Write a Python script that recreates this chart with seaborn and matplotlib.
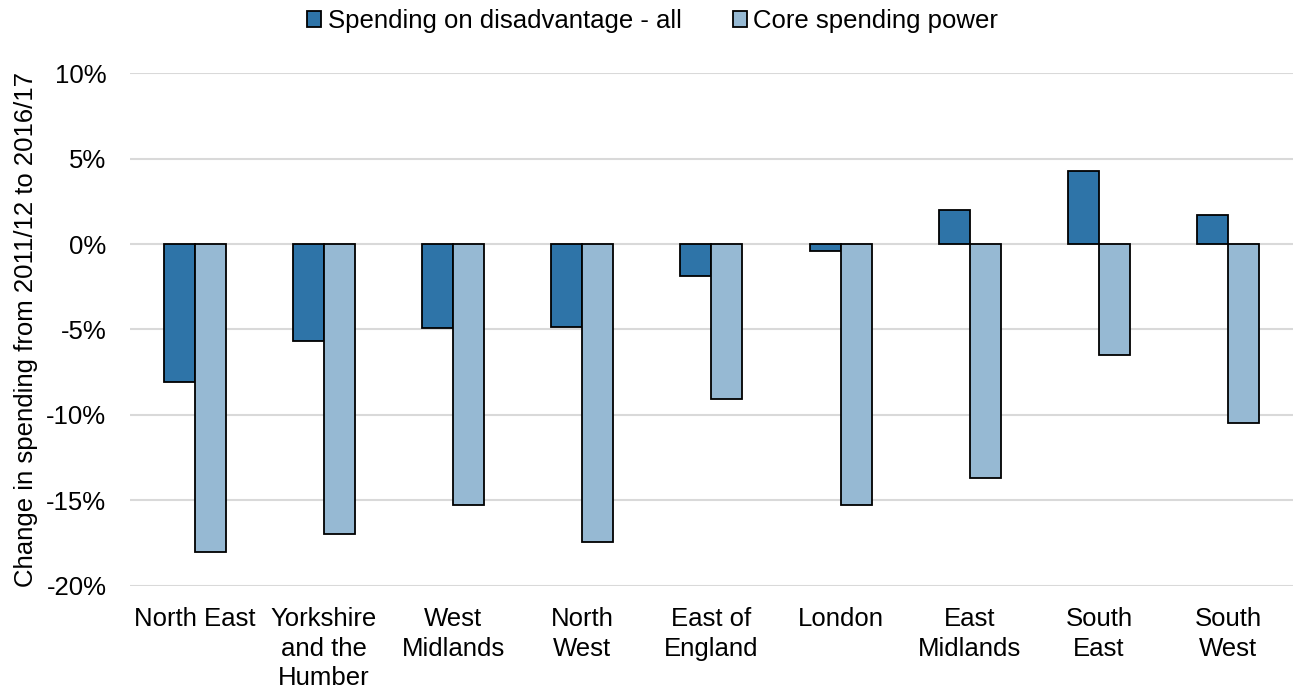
import matplotlib
matplotlib.use("Agg")
import matplotlib.pyplot as plt
import seaborn as sns
import pandas as pd
from matplotlib.ticker import FuncFormatter

regions = ["North East", "Yorkshire\nand the\nHumber", "West\nMidlands", "North\nWest",
           "East of\nEngland", "London", "East\nMidlands", "South\nEast", "South\nWest"]
series_names = ["Spending on disadvantage - all", "Core spending power"]
disadvantage = [-8.1, -5.7, -4.9, -4.85, -1.9, -0.4, 2.0, 4.25, 1.7]
core_power = [-18.0, -16.95, -15.3, -17.45, -9.05, -15.3, -13.7, -6.5, -10.5]
colors = ["#2E74A8", "#96B9D3"]
yticks = [-20, -15, -10, -5, 0, 5, 10]

df = pd.DataFrame({
    "region": regions * 2,
    "series": [series_names[0]] * len(regions) + [series_names[1]] * len(regions),
    "value": disadvantage + core_power,
})

sns.set_style("white")
plt.rcParams["font.family"] = ["Liberation Sans", "DejaVu Sans"]
plt.rcParams["text.color"] = "black"
plt.rcParams["axes.labelcolor"] = "black"

fs = 18.5
fig = plt.figure(figsize=(12.95, 6.9), dpi=100)
ax = fig.add_axes([0.1004, 0.151, 0.898, 0.743])

sns.barplot(data=df, x="region", y="value", hue="series", order=regions,
            hue_order=series_names, palette=colors, saturation=1, width=0.48,
            edgecolor="black", linewidth=1.3, ax=ax, zorder=3)

ax.set_ylim(-20, 10)
ax.set_yticks(yticks)
ax.yaxis.set_major_formatter(FuncFormatter(lambda v, p: f"{v:.0f}%"))
ax.grid(axis="y", color="#D9D9D9", linewidth=1.5, zorder=0)
ax.grid(axis="x", visible=False)
ax.set_axisbelow(True)
for s in ax.spines.values():
    s.set_visible(False)
ax.tick_params(axis="both", length=0, labelsize=fs, colors="black")
ax.tick_params(axis="y", pad=17)
ax.tick_params(axis="x", pad=15)
for lbl in ax.get_xticklabels():
    lbl.set_linespacing(1.31)
ax.set_xlabel("")
ax.set_ylabel("Change in spending from 2011/12 to 2016/17", fontsize=fs, labelpad=6)

handles, labels = ax.get_legend_handles_labels()
ax.get_legend().remove()
fig.legend(handles, labels, loc="center", bbox_to_anchor=(0.504, 0.969), ncol=2,
           frameon=False, fontsize=fs, handlelength=0.56, handleheight=0.6,
           handletextpad=0.24, columnspacing=2.0)

fig.savefig("out.png", dpi=100)
